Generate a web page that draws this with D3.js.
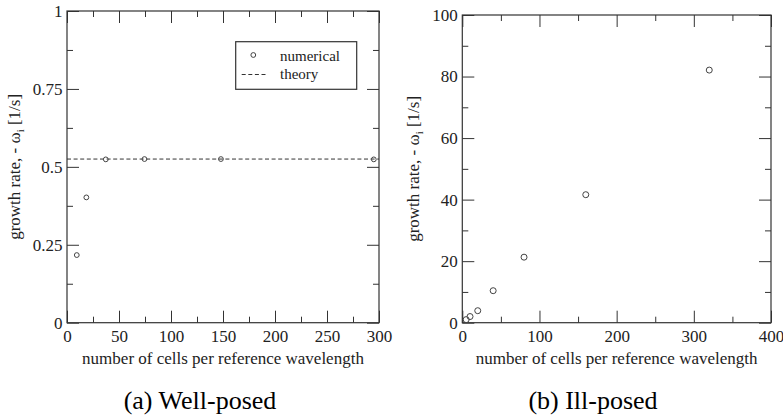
<!DOCTYPE html>
<html><head><meta charset="utf-8">
<script src="https://cdn.jsdelivr.net/npm/d3@7"></script>
<style>
html,body{margin:0;padding:0;background:#fff;}
svg text{font-family:"Liberation Serif","Times New Roman",serif;}
</style></head><body>
<svg id="c" width="783" height="418"></svg>
<script>
// ---- data: (a) well-posed ----
const wellX = [9.4, 18.6, 37.3, 74.5, 148, 295];
const wellY = [0.217, 0.402, 0.524, 0.525, 0.525, 0.524];
const theoryY = 0.525;
const wellXTicks = [0, 50, 100, 150, 200, 250, 300];
const wellXMinor = [25, 75, 125, 175, 225, 275];
const wellXLabels = ["0", "50", "100", "150", "200", "250", "300"];
const wellYTicks = [0, 0.25, 0.5, 0.75, 1];
const wellYMinor = [0.125, 0.375, 0.625, 0.875];
const wellYLabels = ["0", "0.25", "0.5", "0.75", "1"];
// ---- data: (b) ill-posed ----
const illX = [5, 10, 20, 40, 80, 160, 320];
const illY = [1.0, 2.0, 3.9, 10.4, 21.3, 41.6, 82.1];
const illXTicks = [0, 100, 200, 300, 400];
const illXMinor = [50, 150, 250, 350];
const illXLabels = ["0", "100", "200", "300", "400"];
const illYTicks = [0, 20, 40, 60, 80, 100];
const illYMinor = [10, 30, 50, 70, 90];
const illYLabels = ["0", "20", "40", "60", "80", "100"];
const legendLabels = ["numerical", "theory"];
const xTitle = "number of cells per reference wavelength";
const captions = ["(a) Well-posed", "(b) Ill-posed"];

const svg = d3.select("#c");
const INK = "#333";

function panel(o) {
  const g = svg.append("g");
  const x = d3.scaleLinear().domain(o.xDomain).range([o.left, o.right]);
  const y = d3.scaleLinear().domain(o.yDomain).range([o.bottom, o.top]);

  const sides = [
    {make: () => d3.axisBottom(x), tr: `translate(0,${o.bottom})`, dim: "x", lab: true},
    {make: () => d3.axisTop(x), tr: `translate(0,${o.top})`, dim: "x", lab: false},
    {make: () => d3.axisLeft(y), tr: `translate(${o.left},0)`, dim: "y", lab: true},
    {make: () => d3.axisRight(y), tr: `translate(${o.right},0)`, dim: "y", lab: false}
  ];
  sides.forEach(s => {
    const major = s.dim === "x" ? o.xTicks : o.yTicks;
    const minor = s.dim === "x" ? o.xMinor : o.yMinor;
    const labels = s.dim === "x" ? o.xLabels : o.yLabels;
    const axMaj = s.make().tickValues(major).tickSizeInner(-12).tickSizeOuter(0)
      .tickPadding(s.dim === "x" ? 7 : 4.5)
      .tickFormat(s.lab ? ((d, i) => labels[i]) : () => "");
    const a = g.append("g").attr("transform", s.tr).call(axMaj)
      .attr("color", INK).attr("font-family", "Liberation Serif").attr("font-size", 17);
    a.select(".domain").remove();
    a.selectAll("text").attr("fill", "#222");
    const axMin = s.make().tickValues(minor).tickSizeInner(-6).tickSizeOuter(0).tickFormat(() => "");
    const b = g.append("g").attr("transform", s.tr).call(axMin).attr("color", INK);
    b.select(".domain").remove();
  });

  // frame
  g.append("rect").attr("x", o.left).attr("y", o.top)
    .attr("width", o.right - o.left).attr("height", o.bottom - o.top)
    .attr("fill", "none").attr("stroke", INK).attr("stroke-width", 1.2);

  // theory line
  if (o.theory !== undefined) {
    g.append("line").attr("x1", o.left).attr("x2", o.right)
      .attr("y1", y(o.theory)).attr("y2", y(o.theory))
      .attr("stroke", INK).attr("stroke-width", 1).attr("stroke-dasharray", "4,2.6");
  }

  // points
  g.selectAll("circle.pt").data(o.xs.map((v, i) => [v, o.ys[i]])).join("circle")
    .attr("class", "pt").attr("cx", d => x(d[0])).attr("cy", d => y(d[1]))
    .attr("r", o.r).attr("fill", "none").attr("stroke", "#444").attr("stroke-width", 1);

  // x title
  g.append("text").attr("x", (o.left + o.right) / 2).attr("y", 364)
    .attr("text-anchor", "middle").attr("font-size", 17).attr("fill", "#222").text(xTitle);

  // y title
  const yt = g.append("text").attr("transform", `translate(${o.ytX},${(o.top + o.bottom) / 2}) rotate(-90)`)
    .attr("text-anchor", "middle").attr("font-size", 17).attr("fill", "#222");
  yt.append("tspan").text("growth rate, - \u03c9");
  yt.append("tspan").attr("dy", 4).attr("font-size", 11).text("i");
  yt.append("tspan").attr("dy", -4).text(" [1/s]");

  // caption
  svg.append("text").attr("x", o.capX).attr("y", 409).attr("text-anchor", "middle")
    .attr("font-size", 26).attr("fill", "#000").text(o.caption);

  return {g, x, y};
}

const A = panel({
  left: 67, right: 379, top: 11, bottom: 322.7,
  xDomain: [0, 300], yDomain: [0, 1],
  xTicks: wellXTicks, xMinor: wellXMinor, xLabels: wellXLabels,
  yTicks: wellYTicks, yMinor: wellYMinor, yLabels: wellYLabels,
  xs: wellX, ys: wellY, theory: theoryY, r: 2.4,
  ytX: 20, capX: 200, caption: captions[0]
});

panel({
  left: 462.3, right: 771, top: 15, bottom: 322.7,
  xDomain: [0, 400], yDomain: [0, 100],
  xTicks: illXTicks, xMinor: illXMinor, xLabels: illXLabels,
  yTicks: illYTicks, yMinor: illYMinor, yLabels: illYLabels,
  xs: illX, ys: illY, r: 3,
  ytX: 419, capX: 593, caption: captions[1]
});

// legend for panel (a)
const lg = A.g.append("g");
lg.append("rect").attr("x", 235.7).attr("y", 41.7).attr("width", 121).attr("height", 47.6)
  .attr("fill", "#fff").attr("stroke", INK).attr("stroke-width", 1.2);
lg.append("circle").attr("cx", 253.3).attr("cy", 55).attr("r", 2.4)
  .attr("fill", "none").attr("stroke", "#444");
lg.append("line").attr("x1", 241.7).attr("x2", 267).attr("y1", 74.5).attr("y2", 74.5)
  .attr("stroke", INK).attr("stroke-dasharray", "4,2.6");
lg.selectAll("text.lt").data(legendLabels).join("text").attr("class", "lt")
  .attr("x", 280).attr("y", (d, i) => 60.5 + i * 18).attr("font-size", 15).attr("fill", "#222").text(d => d);
</script>
</body></html>
